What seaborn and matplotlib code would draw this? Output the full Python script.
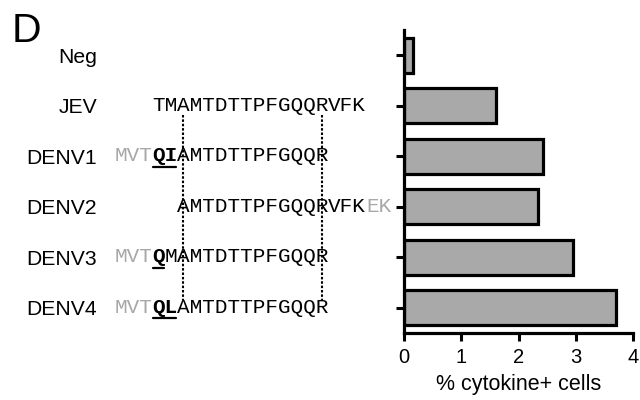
import matplotlib
matplotlib.use("Agg")
import matplotlib.pyplot as plt
import matplotlib.transforms as mtransforms
from matplotlib.lines import Line2D
import seaborn as sns
import pandas as pd

# Peptide responses
groups = ["Neg", "JEV", "DENV1", "DENV2", "DENV3", "DENV4"]
cytokine_pct = [0.15, 1.61, 2.43, 2.34, 2.95, 3.70]

# Aligned peptide sequences: (flank text, mutated residues, core, tail, extra tail)
lead_gray = ["", "", "MVT", "", "MVT", "MVT"]
lead_bold = ["", "", "QI", "", "Q", "QL"]
lead_plain = ["", "TM", "", "", "M", ""]
core_seq = ["", "AMTDTTPFGQQR", "AMTDTTPFGQQR", "AMTDTTPFGQQR", "AMTDTTPFGQQR", "AMTDTTPFGQQR"]
tail_plain = ["", "VFK", "", "VFK", "", ""]
tail_gray = ["", "", "", "EK", "", ""]

x_ticks = [0, 1, 2, 3, 4]
x_label = "% cytokine+ cells"
panel_tag = "D"

W, H = 640, 400
DPI = 100
sns.set_style("ticks")
plt.rcParams["font.family"] = ["Liberation Sans", "DejaVu Sans"]
plt.rcParams["text.color"] = "black"
plt.rcParams["axes.labelcolor"] = "black"

fig = plt.figure(figsize=(W / DPI, H / DPI), dpi=DPI)
ax = fig.add_axes([404 / W, 1 - 333 / H, (633 - 404) / W, (333 - 30) / H])

df = pd.DataFrame({"group": groups, "pct": cytokine_pct})
sns.barplot(data=df, y="group", x="pct", orient="h", order=groups,
            color="#a9a9a9", saturation=1, edgecolor="black", linewidth=2.3,
            width=0.69, ax=ax)

ax.set_xlim(0, 4)
ax.set_ylim(5.5, -0.5)
ax.set_xticks(x_ticks)
ax.set_xticklabels([str(t) for t in x_ticks])
ax.set_yticklabels([])
ax.set_ylabel("")
ax.set_xlabel(x_label, fontsize=15.5, labelpad=5.5, color="black")
ax.tick_params(axis="x", length=6, width=2.2, labelsize=14.5, pad=4.5,
               direction="out", color="black", labelcolor="black")
ax.tick_params(axis="y", length=6, width=2.2, direction="out", color="black")
for side in ("top", "right"):
    ax.spines[side].set_visible(False)
for side in ("left", "bottom"):
    ax.spines[side].set_linewidth(2.3)
    ax.spines[side].set_color("black")
    ax.spines[side].set_capstyle("projecting")

# Left-hand annotation panel: names and aligned sequences
row_tf = mtransforms.blended_transform_factory(fig.transFigure, ax.transData)
mono = "Liberation Mono"
mono_size = 15.1
adv = 0.6 * mono_size * DPI / 72.0      # monospace advance in pixels
core_left = 177.2                        # pixel x of the core's first residue
gray = "#a8a8a8"

for i, name in enumerate(groups):
    ax.text(97 / W, i + 0.15, name, transform=row_tf, ha="right",
            va="baseline", fontsize=15.2, color="black", clip_on=False)

    n_lead = len(lead_gray[i]) + len(lead_bold[i]) + len(lead_plain[i])
    pos = -n_lead
    for txt, col, wt in ((lead_gray[i], gray, "normal"),
                         (lead_bold[i], "black", "bold"),
                         (lead_plain[i], "black", "normal"),
                         (core_seq[i], "black", "normal"),
                         (tail_plain[i], "black", "normal"),
                         (tail_gray[i], gray, "normal")):
        if txt:
            x0 = core_left + pos * adv
            ax.text(x0 / W, i + 0.1, txt, transform=row_tf, ha="left",
                    va="baseline", family=mono, fontsize=mono_size,
                    color=col, fontweight=wt, clip_on=False)
            if wt == "bold":
                ax.add_line(Line2D([(x0 + 1) / W, (x0 + len(txt) * adv - 1) / W],
                                   [i + 0.21, i + 0.21], transform=row_tf,
                                   color="black", linewidth=1.6,
                                   clip_on=False))
        pos += len(txt)

# Dotted guides marking the shared core
for k in (0, len(core_seq[1]) - 1):
    xc = (core_left + (k + 0.5) * adv) / W
    fig.add_artist(Line2D([xc, xc], [1 - 115 / H, 1 - 300 / H],
                          transform=fig.transFigure, color="black",
                          linewidth=1.5, linestyle=(0, (1.2, 0.9))))

fig.text(12 / W, 1 - 41.5 / H, panel_tag, fontsize=29.5, ha="left",
         va="baseline", color="black")

fig.savefig("out.png", dpi=DPI, facecolor="white")
